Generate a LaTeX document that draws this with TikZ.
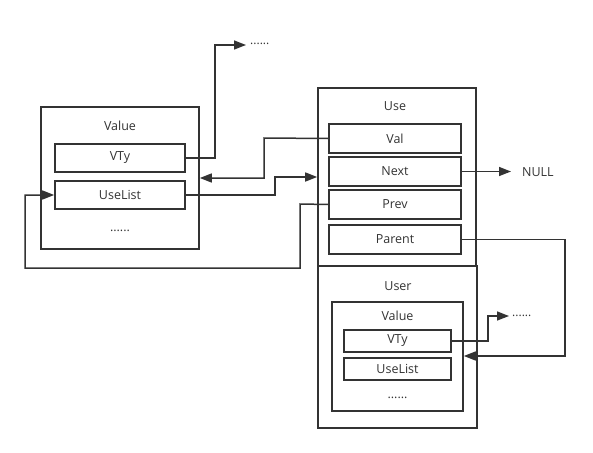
\documentclass[tikz,border=0pt]{standalone}
\usepackage{fontspec}
\setmainfont{Open Sans}
\usetikzlibrary{arrows.meta}
\definecolor{ln}{HTML}{333333}
\tikzset{
  box/.style={draw=ln, line width=1.6pt, inner sep=0pt, fill=white},
  lbl/.style={text=ln, font=\fontsize{12.5}{14}\selectfont, inner sep=0pt},
  dots/.style={text=ln, font=\fontsize{12}{14}\selectfont, inner sep=2pt, anchor=west},
  arr/.style={draw=ln, line width=1.5pt, -{Triangle[length=12pt,width=9pt]}}
}
\begin{document}
\begin{tikzpicture}[x=1pt,y=-1pt]
\useasboundingbox (0,0) rectangle (593,452);
% Value (left)
\node[box, minimum width=158pt, minimum height=142pt] (value) at (120,178) {};
\node[lbl] (valuet) at (120,126) {Value};
\node[box, minimum width=130pt, minimum height=28pt] (vty) at (120,158) {};
\node[lbl] at (vty) {VTy};
\node[box, minimum width=130pt, minimum height=28pt] (uselist) at (120,195) {};
\node[lbl] at (uselist) {UseList};
\node[lbl] (vdots) at (120,231) {......};
% Use
\node[box, minimum width=158pt, minimum height=178pt] (use) at (397,177) {};
\node[lbl] (uset) at (395,106) {Use};
\node[box, minimum width=132pt, minimum height=29pt] (val) at (395,138.5) {};
\node[lbl] at (val) {Val};
\node[box, minimum width=132pt, minimum height=29pt] (next) at (395,171.5) {};
\node[lbl] at (next) {Next};
\node[box, minimum width=132pt, minimum height=29pt] (prev) at (395,204.5) {};
\node[lbl] at (prev) {Prev};
\node[box, minimum width=132pt, minimum height=29pt] (parent) at (395,239.5) {};
\node[lbl] at (parent) {Parent};
% User
\node[box, minimum width=159pt, minimum height=162pt] (user) at (397.5,347) {};
\node[lbl] (usert) at (398,286) {User};
\node[box, minimum width=131pt, minimum height=109pt] (ivalue) at (397.5,356.5) {};
\node[lbl] (ivaluet) at (397.5,316) {Value};
\node[box, minimum width=107pt, minimum height=22pt] (ivty) at (397.5,341) {};
\node[lbl] at (ivty) {VTy};
\node[box, minimum width=107pt, minimum height=22pt] (iuselist) at (397.5,369) {};
\node[lbl] at (iuselist) {UseList};
\node[lbl] (ivdots) at (397.5,398) {......};
% free texts
\node[dots] (dots1) at (248,44) {......};
\node[dots] (dots2) at (510,316) {......};
\node[lbl, anchor=west] (null) at (522,172) {NULL};
% connectors
\draw[arr] (vty.east) -- (215,158) -- (215,45) -- (246,45);
\draw[arr] (val.west) -- (264,138) -- (264,178) -- (value.east |- 0,178);
\draw[arr] (uselist.east) -- (275,195) -- (275,177) -- (use.west |- 0,177);
\draw[arr] (prev.west) -- (300,204) -- (300,268) -- (25,268) -- (25,195) -- (uselist.west);
\draw[arr] (next.east) -- (511,171.5);
\draw[arr] (parent.east) -- (565,239.5) -- (565,356) -- (ivalue.east |- 0,356);
\draw[arr] (ivty.east) -- (488,341) -- (488,316) -- (509,316);
\end{tikzpicture}
\end{document}
